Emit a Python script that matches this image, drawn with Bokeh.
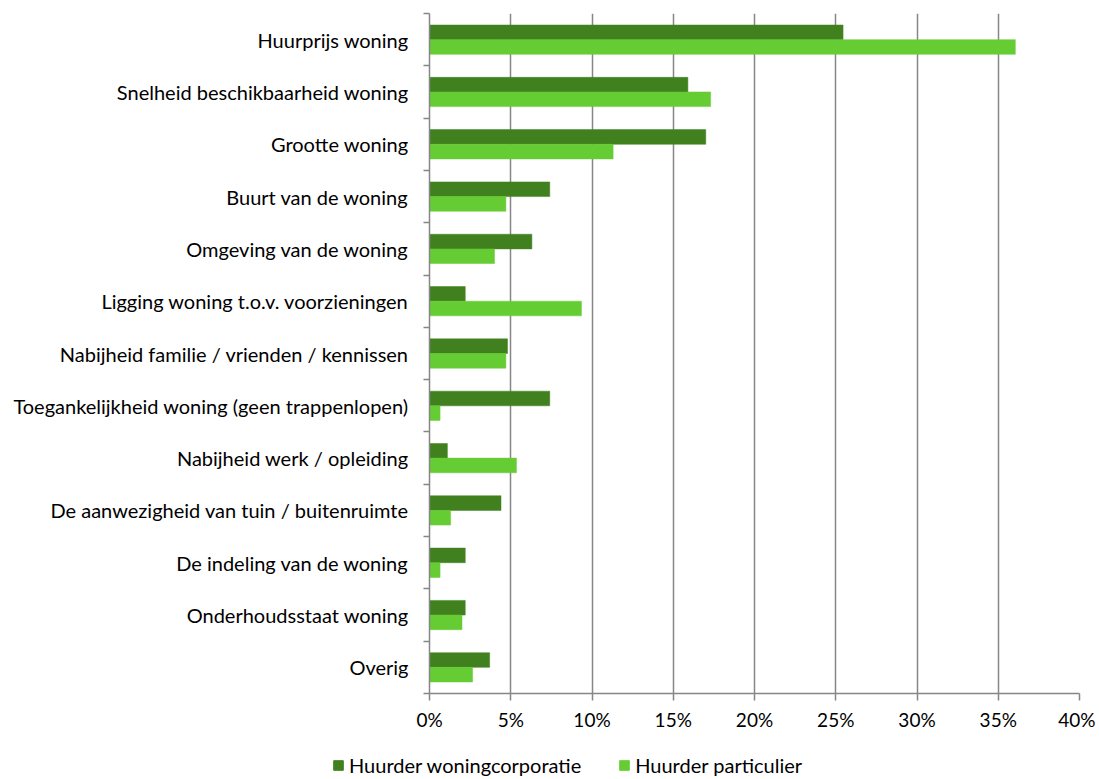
from bokeh.plotting import figure
from bokeh.layouts import column, row
from bokeh.models import FixedTicker, PrintfTickFormatter, Legend, LegendItem, Range1d, ColumnDataSource
from bokeh.embed import file_html
from bokeh.resources import INLINE

categories = [
    "Huurprijs woning",
    "Snelheid beschikbaarheid woning",
    "Grootte woning",
    "Buurt van de woning",
    "Omgeving van de woning",
    "Ligging woning t.o.v. voorzieningen",
    "Nabijheid familie / vrienden / kennissen",
    "Toegankelijkheid woning (geen trappenlopen)",
    "Nabijheid werk / opleiding",
    "De aanwezigheid van tuin / buitenruimte",
    "De indeling van de woning",
    "Onderhoudsstaat woning",
    "Overig",
]
corporatie = [25.45, 15.9, 17.0, 7.4, 6.3, 2.2, 4.8, 7.4, 1.1, 4.4, 2.2, 2.2, 3.7]
particulier = [36.05, 17.3, 11.3, 4.7, 4.0, 9.35, 4.7, 0.65, 5.35, 1.3, 0.65, 2.0, 2.65]
series_names = ["Huurder woningcorporatie", "Huurder particulier"]
x_ticks = [0, 5, 10, 15, 20, 25, 30, 35, 40]

DARK = "#41801f"
LIGHT = "#66cc33"
GRID = "#868686"
FONT = "Lato"

n = len(categories)
pos = [n - 1 - i for i in range(n)]
bar_h = 0.28

W = 1095
p = figure(width=W, height=750, output_backend="svg", toolbar_location=None,
           x_range=Range1d(0, 40), y_range=Range1d(-0.5, n - 0.5))
p.min_border_left = 429
p.min_border_right = 16
p.min_border_top = 13
p.min_border_bottom = 57
p.outline_line_color = None
p.background_fill_color = "white"
p.border_fill_color = "white"

src = ColumnDataSource(dict(
    y_dark=[v + bar_h / 2 for v in pos],
    y_light=[v - bar_h / 2 for v in pos],
    corporatie=corporatie,
    particulier=particulier,
))
p.hbar(y="y_dark", right="corporatie", left=0, height=bar_h, source=src,
       fill_color=DARK, line_color=DARK, line_width=0.5)
p.hbar(y="y_light", right="particulier", left=0, height=bar_h, source=src,
       fill_color=LIGHT, line_color=LIGHT, line_width=0.5)

# x axis
p.xaxis.ticker = FixedTicker(ticks=x_ticks)
p.xaxis.formatter = PrintfTickFormatter(format="%d%%")
p.xaxis.axis_line_color = GRID
p.xaxis.axis_line_width = 1.5
p.xaxis.major_tick_line_color = GRID
p.xaxis.major_tick_line_width = 1.5
p.xaxis.major_tick_out = 7
p.xaxis.major_tick_in = 0
p.xaxis.minor_tick_line_color = None
p.xaxis.major_label_text_font = FONT
p.xaxis.major_label_text_font_size = "19px"
p.xaxis.major_label_text_color = "black"
p.xaxis.major_label_standoff = 7

# y axis
p.yaxis.ticker = FixedTicker(ticks=pos, minor_ticks=[v - 0.5 for v in range(n + 1)])
p.yaxis.major_label_overrides = {pos[i]: categories[i] for i in range(n)}
p.yaxis.axis_line_color = GRID
p.yaxis.axis_line_width = 1.5
p.yaxis.major_tick_line_color = None
p.yaxis.major_tick_out = 0
p.yaxis.major_tick_in = 0
p.yaxis.minor_tick_line_color = GRID
p.yaxis.minor_tick_line_width = 1.5
p.yaxis.minor_tick_out = 6
p.yaxis.minor_tick_in = 0
p.yaxis.major_label_text_font = FONT
p.yaxis.major_label_text_font_size = "20px"
p.yaxis.major_label_text_color = "black"
p.yaxis.major_label_standoff = 15

p.xgrid.ticker = FixedTicker(ticks=x_ticks)
p.xgrid.grid_line_color = GRID
p.xgrid.grid_line_width = 1.5
p.ygrid.grid_line_color = None

# legend strip
p2 = figure(width=W, height=29, output_backend="svg", toolbar_location=None,
            x_range=Range1d(0, 1), y_range=Range1d(0, 1))
p2.min_border_left = 0
p2.min_border_right = 0
p2.min_border_top = 0
p2.min_border_bottom = 0
p2.axis.visible = False
p2.grid.visible = False
p2.outline_line_color = None
# legend swatches drawn outside the visible range; only their legend glyphs show
g1 = p2.quad(left=[2], right=[3], top=[3], bottom=[2], fill_color=DARK, line_color=DARK)
g2 = p2.quad(left=[2], right=[3], top=[3], bottom=[2], fill_color=LIGHT, line_color=LIGHT)
legend = Legend(items=[LegendItem(label=series_names[0], renderers=[g1]),
                       LegendItem(label=series_names[1], renderers=[g2])],
                orientation="horizontal", location=(332, 2),
                margin=0, padding=0, spacing=37, label_standoff=5,
                glyph_width=12, glyph_height=12, label_height=20,
                label_text_font=FONT, label_text_font_size="20px",
                label_text_color="black",
                border_line_color=None, background_fill_alpha=0)
p2.add_layout(legend, "center")

layout = column(p, row(p2, spacing=0), spacing=0)
open("out.html", "w").write(file_html(layout, INLINE))
